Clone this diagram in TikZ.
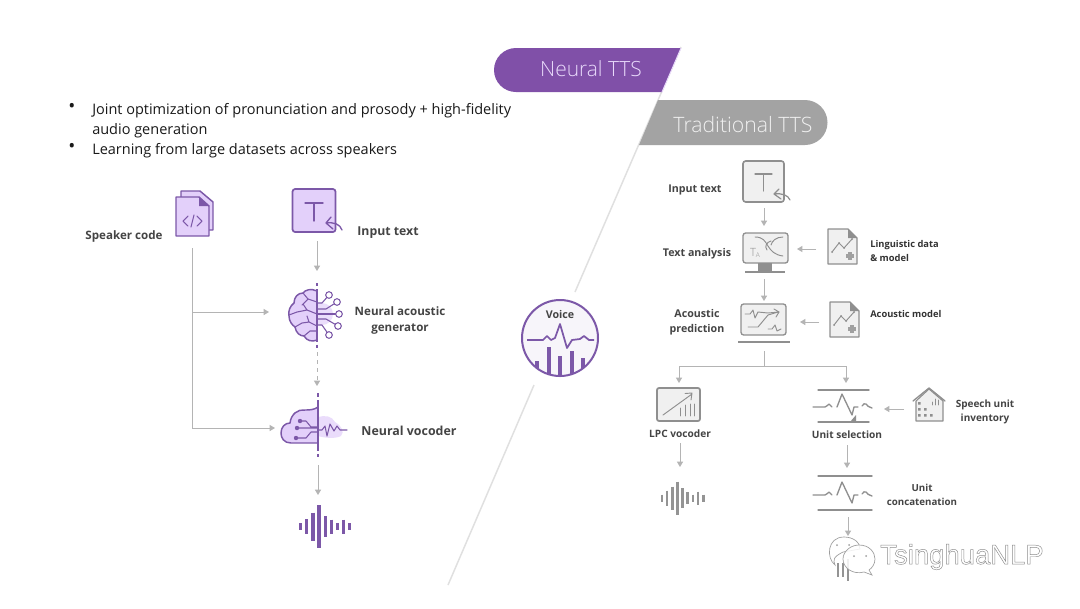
\documentclass[tikz,border=0pt]{standalone}
\usepackage{fontspec}
\setmainfont{Open Sans}
\newfontfamily\lightf{Open Sans Light}
\newfontfamily\wmf{Liberation Sans}
\usetikzlibrary{arrows.meta,calc}
\definecolor{pur}{HTML}{7C58A8}
\definecolor{purd}{HTML}{8050A8}
\definecolor{lav}{HTML}{E3D0FA}
\definecolor{lavl}{HTML}{E9DAFB}
\definecolor{gic}{HTML}{8F8F8F}
\definecolor{gfill}{HTML}{F0F0F0}
\definecolor{conn}{HTML}{B4B4B4}
\definecolor{lbl}{HTML}{444444}
\newcommand\fs[1]{\fontsize{#1}{#1}\selectfont}
\tikzset{
  conarrow/.style={draw=conn,line width=0.75pt,-{Triangle[length=4pt,width=4.5pt]}},
  conline/.style={draw=conn,line width=0.75pt},
  biglabel/.style={text=lbl,font=\fs{8.7}\bfseries,align=center,inner sep=0pt},
  smalllabel/.style={text=lbl,font=\fs{7.3}\bfseries,align=center,inner sep=0pt},
  blacklabel/.style={text=black!80,font=\fs{7}\bfseries,align=left,inner sep=0pt},
  bullettext/.style={text=black!90,font=\fs{10.87},anchor=west,inner sep=0pt},
  pstroke/.style={draw=pur,line width=1.1pt,line join=round,line cap=round},
  pthin/.style={draw=pur,line width=0.8pt,line cap=round,line join=round},
  gstroke/.style={draw=gic,line width=1pt,line join=round,line cap=round},
  gthin/.style={draw=gic,line width=0.7pt,line cap=round,line join=round},
  splitline/.style={draw=pur,line width=1.2pt},
  diag/.style={draw=black!12,line width=1.1pt},
}
\newcommand\wavebars[6]{% x step cy color scale list
  \foreach \hh [count=\ii from 0] in {#6}{
    \draw[#4,line width=#5,line cap=butt] ({#1+\ii*#2},{#3-\hh/2}) -- ({#1+\ii*#2},{#3+\hh/2});}}
\newcommand\docicon[2]{\begin{scope}[shift={(#1,#2)}]
  \draw[gstroke,fill=gfill] (0,0) -- (20,0) -- (29,9) -- (29,35) -- (0,35) -- cycle;
  \fill[gic] (20,0) -- (29,9) -- (20,9) -- cycle;
  \draw[gthin] (4,23) -- (11,14) -- (16,19) -- (24,10);
  \fill[gic] (4,23) circle (1) (11,14) circle (1) (16,19) circle (1) (24,10) circle (1);
  \draw[gic!85,line width=3pt] (18,27) -- (26,27) (22,23) -- (22,31);
\end{scope}}
\newcommand\unitwave[1]{\begin{scope}[shift={(#1)}]
  \draw[gstroke] (0,0) -- (12,0) .. controls (14,0) and (15,-3) .. (16,-3) .. controls (17,-3) and (18,0) .. (19,0);
  \draw[gstroke] (24,0) -- (29,-13) -- (39,8) -- (41,0) -- (45,0);
  \draw[gstroke] (49,-1) .. controls (50,-3) and (52,-4) .. (53,-3) .. controls (54,-2) and (56,1) .. (59,1);
\end{scope}}
\begin{document}
\begin{tikzpicture}[x=0.75pt,y=-0.75pt]
\useasboundingbox (0,0) rectangle (1080,608);
\fill[white] (0,0) rectangle (1080,608);

% diagonal
\coordinate (dA) at (681,47); \coordinate (dB) at (575,292);
\coordinate (dC) at (534,385); \coordinate (dD) at (448,585);
\draw[diag] (dA) -- (dB); \draw[diag] (dC) -- (dD);

% pills
\fill[purd] (681,48) -- (662,92) -- (516,92) arc[start angle=90,end angle=270,radius=22] -- cycle;
\draw[lavl,line width=0.7pt] (681,48) -- (662,92);
\node[inner sep=0pt,text=lavl,font=\fs{15.7}\lightf] (neuralT) at (591,69) {Neural TTS};
\fill[black!36] (658,100) -- (639,145) -- (805,145) arc[start angle=90,end angle=-90,radius=22.5] -- cycle;
\node[inner sep=0pt,text=black!6,font=\fs{15.9}\lightf] (tradT) at (743,125) {Traditional TTS};

% bullets
\node[bullettext,font=\fs{14}] (b1) at (68,108) {•};
\node[bullettext] (t1) at (92,110.5) {Joint optimization of pronunciation and prosody + high-fidelity};
\node[bullettext] (t2) at (92,130.5) {audio generation};
\node[bullettext,font=\fs{14}] (b2) at (68,148) {•};
\node[bullettext] (t3) at (92,150.5) {Learning from large datasets across speakers};

% speaker icon
\begin{scope}[shift={(176,191)}]
 \draw[pstroke,fill=lav] (5,0) -- (24,0) -- (37,11) -- (37,39) -- (5,39) -- cycle;
 \draw[pstroke,fill=lav] (0,6) -- (23,6) -- (33,15) -- (33,45) -- (0,45) -- cycle;
 \fill[pur] (23,6) -- (33,15) -- (23,15) -- cycle;
 \draw[pthin] (12,25) -- (7,30) -- (12,35) (21,25) -- (26,30) -- (21,35) (18,24) -- (15,36);
\end{scope}
\node[biglabel] (spk) at (124,236) {Speaker code};

% input text purple
\node[draw=pur,line width=1.3pt,fill=lav,rounded corners=2pt,minimum width=43pt*0.75,minimum height=43pt*0.75,inner sep=0pt] (inN) at (314,210.5) {};
\draw[pthin,line width=1pt] (305,203) -- (323,203) (314,203) -- (314,221);
\draw[pthin,line width=1pt] (342,230) .. controls (340,224) and (334,222) .. (326,223) (331,217) -- (326,223) -- (333,229);
\node[biglabel,font=\fs{9.2}\bfseries] (inL) at (388,233) {Input text};

% brain
\fill[lav!70] (322,314) circle (11);
\draw[pstroke,fill=lav] (317,291) .. controls (311,288) and (305,290) .. (303,293) .. controls (298,293) and (294,297) .. (294,303) .. controls (290,306) and (288,311) .. (289,316) .. controls (289,321) and (292,325) .. (295,327) .. controls (296,333) and (300,336) .. (304,336) .. controls (307,341) and (312,342) .. (317,340);
\draw[pthin] (317,302) -- (308,299) -- (303,293) (308,299) -- (302,305) (317,314) -- (307,310) -- (297,312) (307,310) -- (303,304) (289,315) -- (297,312) (317,326) -- (309,322) -- (302,323) -- (295,327) (309,322) -- (307,316) (304,336) -- (310,331) -- (317,331);
\foreach \a/\b/\c/\d in {329/295/322/303,337/302/326/309,339/314/320/314,338/326/326/319,329/335/322/325}{
  \draw[pthin] (\a,\b) -- (\c,\d) -- (318,\d);
  \draw[pthin,fill=white] (\a,\b) circle (3.3);
}
\coordinate (brTop) at (317,283); \coordinate (brBot) at (317,348);
\draw[splitline] (brTop) -- ++(0,3) (317,289) -- (317,342) (317,344.5) -- (brBot);

% cloud
\fill[lav!75] (318,417) .. controls (325,415) and (332,416) .. (335,422) .. controls (341,425) and (345,432) .. (341,436) .. controls (335,439) and (325,438) .. (318,436) -- cycle;
\draw[pstroke,fill=lav] (318,443) -- (291,443) .. controls (284,443) and (281,438) .. (281,433) .. controls (281,427) and (285,423) .. (290,423) .. controls (291,414) and (298,409) .. (305,410) .. controls (309,410) and (314,410) .. (318,407);
\draw[pthin] (300,421) -- (306,421) -- (311,427) -- (318,427) (297,428) -- (318,428) (296,438) -- (306,438) -- (311,432) -- (318,432);
\fill[pur] (300,421) circle (2.2) (297,428) circle (2.2) (296,438) circle (2.2);
\draw[pthin] (318,430) -- (322,430) -- (325,426) -- (327,436) -- (330,424) -- (334,431) -- (337,426) -- (340,430) -- (347,430);
\coordinate (clTop) at (318,393); \coordinate (clBot) at (318,457);
\draw[splitline] (clTop) -- ++(0,3.5) (318,400) -- (318,451) (318,454) -- (clBot);
\node[biglabel,font=\fs{9.3}\bfseries] (vocL) at (409,431) {Neural vocoder};
\node[biglabel,font=\fs{8.7}\bfseries] (acoL) at (400,320.5) {Neural acoustic\\[3pt]generator};

% purple waveform
\wavebars{300.7}{6.1}{526.7}{pur}{2.4pt}{7,15,28,43,21,14,7,14,7}
\coordinate (wfTop) at (318,495);

% left connectors
\coordinate (sp0) at (192,248); \coordinate (sp1) at (192,312); \coordinate (sp2) at (269,312);
\coordinate (sp3) at (192,428); \coordinate (sp4) at (275,428);
\draw[conline] (sp0) -- (sp3);
\draw[conarrow] (sp1) -- (sp2);
\draw[conarrow] (sp3) -- (sp4);
\coordinate (inA) at (317,241); \coordinate (inB) at (317,271);
\draw[conarrow] (inA) -- (inB);
\coordinate (dsA) at (317,352); \coordinate (dsB) at (317,386);
\draw[conline,dash pattern=on 3pt off 3pt] (dsA) -- ($(dsB)+(0,-4)$);
\draw[conarrow] ($(dsB)+(0,-4)$) -- (dsB);
\coordinate (voA) at (318,465);
\draw[conarrow] (voA) -- (wfTop);

% voice
\node[circle,draw=pur,line width=1.5pt,fill=pur!6,minimum size=57pt,inner sep=0pt] (voice) at (560,338) {};
\node[inner sep=0pt,text=lbl,font=\fs{8}\bfseries] (voiceL) at (560,314.5) {Voice};
\begin{scope}
 \clip (560,338) circle (37.5);
 \foreach \x/\t in {537/361,549/347,560/356,572/351,583/358}{
   \draw[pur,line width=2.3pt] (\x,\t) -- (\x,380);}
 \draw[pur,line width=1.3pt,line join=round] (527,340) -- (543,340) -- (547,336) -- (551,340) -- (555,338) -- (560,324) -- (567,348) -- (572,340) -- (580,339) -- (584,336) -- (589,340) -- (594,340);
\end{scope}

% right: input
\node[draw=gic,line width=1.2pt,fill=gfill,rounded corners=2pt,minimum width=41pt*0.75,minimum height=41pt*0.75,inner sep=0pt] (inG) at (763.5,181.5) {};
\draw[gthin,line width=0.9pt] (755,174) -- (772,174) (763.5,174) -- (763.5,191);
\draw[gthin,line width=0.9pt] (790,200) .. controls (788,195) and (782,193) .. (774,194) (779,189) -- (774,194) -- (781,199);
\node[smalllabel,font=\fs{8}\bfseries] (inGL) at (695,189.5) {Input text};
% text analysis
\draw[gstroke,fill=gfill,rounded corners=2pt] (743,233) rectangle (788,263);
\fill[gic] (758,263) rectangle (772,271);
\draw[gic,line width=1.5pt] (745,272) -- (785,272);
\draw[gthin] (755,237) .. controls (763,237) and (765,241) .. (768,246) .. controls (771,251) and (775,255) .. (783,256);
\draw[gthin] (783,237) .. controls (776,237) and (772,241) .. (771,245);
\draw[gthin] (771,241) .. controls (767,242) and (764,246) .. (767,250);
\node[inner sep=0pt,text=gic,font=\fs{8.5}\lightf] (ta) at (755,253) {T\raisebox{-1pt}{\fs{5}A}};
\node[smalllabel,font=\fs{8}\bfseries] (taL) at (697,253.5) {Text analysis};
% acoustic
\draw[gstroke,fill=gfill,rounded corners=2pt] (741,304) rectangle (786,335);
\draw[gic,line width=1.5pt] (738,342) -- (790,342);
\draw[gthin] (745,314) -- (750,314) -- (753,310) -- (755,318) -- (758,312) -- (768,313) -- (779,312);
\draw[gthin] (748,327) -- (758,327) -- (768,315) -- (778,312) (774,309) -- (779,312) -- (776,317);
\draw[gthin] (768,329) -- (772,329) -- (775,325) -- (777,331) -- (781,329);
\node[smalllabel,font=\fs{8}\bfseries,align=center] (apL) at (697,322.5) {Acoustic\\[3pt]prediction};
% docs
\docicon{828}{229}
\docicon{830}{302}
\node[blacklabel,anchor=north west] (ling) at (870,240.5) {Linguistic data\\[3.3pt]\& model};
\node[blacklabel,anchor=west] (am) at (870,313.5) {Acoustic model};
% LPC
\draw[gstroke,fill=gfill,line width=1.3pt,rounded corners=1.5pt] (657,388) rectangle (700,421);
\draw[gthin] (663,415) -- (692,394) (685,393.5) -- (692,393) -- (691,400);
\foreach \x/\t in {680/408,685/405,690/404,694/404}{\draw[gthin] (\x,\t) -- (\x,416);}
\node[smalllabel,font=\fs{7.6}\bfseries] (lpcL) at (680,433.5) {LPC vocoder};
\wavebars{662}{5.15}{498}{black!42}{2pt}{7,15,23,33,20,12,7,13,7}
% unit selection
\draw[gstroke] (818,390) -- (869,390) (818,422) -- (869,422);
\unitwave{813,407}
\fill[gic] (850,422) -- (856,415) -- (856,422) -- cycle;
\node[smalllabel,font=\fs{7.6}\bfseries] (usL) at (847,434.5) {Unit selection};
% unit concat
\draw[gstroke] (818,476) -- (872,476) (818,510) -- (872,510);
\unitwave{813,495}
\node[smalllabel] (ucL) at (922,494.5) {Unit\\[3.3pt]concatenation};
% house
\draw[gstroke,fill=gfill,line width=0.8pt] (916,401) -- (916,421) -- (943,421) -- (943,401) -- (929,389) -- cycle;
\draw[gstroke] (913,401) -- (929,388) -- (945,401);
\fill[gic] (918,402) rectangle ++(2.5,2.5) (918,408) rectangle ++(2.5,2.5) (924,408) rectangle ++(2.5,2.5) (918,414) rectangle ++(2.5,2.5) (924,414) rectangle ++(2.5,2.5) (930,414) rectangle ++(2.5,2.5);
\draw[gthin,line width=0.5pt] (932,405) -- (932,402) (935,405) -- (935,399) (938,405) -- (938,400);
\node[smalllabel,font=\fs{7.5}\bfseries] (suL) at (985,412) {Speech unit\\[3.3pt]inventory};
% right connectors
\coordinate (g1) at (764,208); \coordinate (g2) at (764,226);
\draw[conarrow] (g1) -- (g2);
\coordinate (g3) at (764,279); \coordinate (g4) at (764,301);
\draw[conarrow] (g3) -- (g4);
\coordinate (s1) at (816,249); \coordinate (s2) at (797,249);
\draw[conarrow] (s1) -- (s2);
\coordinate (s3) at (819,322); \coordinate (s4) at (800,322);
\draw[conarrow] (s3) -- (s4);
\coordinate (f0) at (764,351); \coordinate (f1) at (764,366);
\coordinate (fl) at (679,383); \coordinate (fr) at (846,383);
\draw[conline] (f0) -- (f1);
\draw[conarrow] (f1) -| (fl);
\draw[conarrow] (f1) -| (fr);
\coordinate (l1) at (680,443); \coordinate (l2) at (680,467);
\draw[conarrow] (l1) -- (l2);
\coordinate (u1) at (847,445); \coordinate (u2) at (847,468);
\draw[conarrow] (u1) -- (u2);
\coordinate (u3) at (848,517); \coordinate (u4) at (848,536);
\draw[conarrow] (u3) -- (u4);
\coordinate (h1) at (904,409); \coordinate (h2) at (884,409);
\draw[conarrow] (h1) -- (h2);
% cut-off waveform below
\wavebars{838}{5}{570}{black!42}{2pt}{14,14,22}
% watermark
\begin{scope}[draw=black!38,line width=0.5pt,fill=white,fill opacity=0.85]
 \path[draw,fill] (843,552) .. controls (833,557) and (833,560) .. (835,565) .. controls (826,558) and (827,537) .. (844,537) .. controls (853,537) and (860,542) .. (860,549) -- cycle;
 \path[draw,fill] (859,545) .. controls (869,545) and (875,552) .. (875,559) .. controls (875,564) and (872,568) .. (869,570) -- (872,575) -- (864,572) .. controls (853,575) and (843,568) .. (843,559) .. controls (843,551) and (851,545) .. (859,545) -- cycle;
\end{scope}
\fill[black!38] (837,545) circle (1) (849,545) circle (1) (854,556) circle (1) (866,556) circle (1);
\node[inner sep=0pt,font=\fs{20.6}\wmf,text=white] (wm) at (962,557) {\special{pdf:code q 2 Tr 0.35 w 0.55 G}TsinghuaNLP\special{pdf:code Q}};
\end{tikzpicture}
\end{document}
